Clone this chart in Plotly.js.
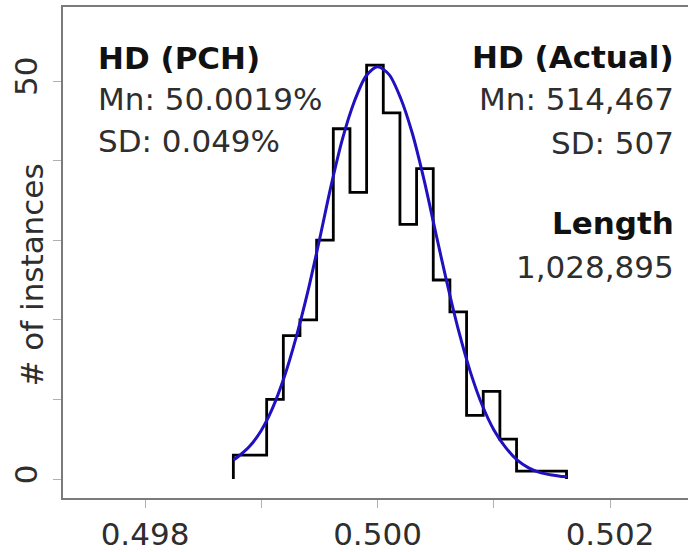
<!DOCTYPE html>
<html>
<head>
<meta charset="utf-8">
<script src="https://cdn.plot.ly/plotly-3.0.1.min.js"></script>
<style>html,body{margin:0;padding:0;overflow:hidden;background:#ffffff;}</style>
</head>
<body>
<div id="chart"></div>
<script>
// ---- data ----
const binStart = 0.49876;
const binWidth = 0.0001433;
const binCounts = [3, 3, 10, 18, 20, 30, 44, 36, 52, 46, 32, 39, 25, 21, 8, 11, 5, 1, 1, 1];

const curveX = [0.49876, 0.4988, 0.4989, 0.4990, 0.4991, 0.4992, 0.4993, 0.4994, 0.4995, 0.4996,
                0.4997, 0.4998, 0.4999, 0.5000, 0.5001, 0.5002, 0.5003, 0.5004, 0.5005, 0.5006,
                0.5007, 0.5008, 0.5009, 0.5010, 0.5011, 0.5012, 0.5013, 0.5014, 0.5015, 0.5016, 0.50163];
const curveY = [2.4, 2.8, 4.1, 6.1, 9.0, 12.9, 17.8, 23.5, 30.0, 36.8,
                42.8, 47.4, 50.6, 51.8, 50.8, 47.8, 43.4, 37.6, 31.0, 24.5,
                18.5, 13.4, 9.3, 6.2, 4.0, 2.4, 1.4, 0.8, 0.5, 0.3, 0.3];

const xTickVals = [0.498, 0.499, 0.500, 0.501, 0.502];
const xTickText = ['0.498', '', '0.500', '', '0.502'];
const yTickVals = [0, 10, 20, 30, 40, 50];
const yTickText = ['0', '', '', '', '', '50'];

const yTitle = '# of instances';
const leftStats = ['HD (PCH)', 'Mn: 50.0019%', 'SD: 0.049%'];
const rightStats = ['HD (Actual)', 'Mn: 514,467', 'SD: 507'];
const lengthStats = ['Length', '1,028,895'];

// ---- build step outline from bins ----
const stepX = [binStart];
const stepY = [0];
binCounts.forEach((c, i) => { stepX.push(binStart + i * binWidth); stepY.push(c); });
stepX.push(binStart + binCounts.length * binWidth);
stepY.push(0);

const FONT = 'DejaVu Sans';
const FS = 31;

// plot box in pixels
const W = 700, H = 552;
const L = 63, R = 695, T = 7, B = 498;
const px2x = p => (p - L) / (R - L);
const px2y = p => (B - p) / (B - T);

const traces = [
  {
    x: stepX, y: stepY, type: 'scatter', mode: 'lines',
    line: {color: '#000000', width: 2.8, shape: 'hv'},
    hoverinfo: 'skip', showlegend: false
  },
  {
    x: curveX, y: curveY, type: 'scatter', mode: 'lines',
    line: {color: '#2010c0', width: 3, shape: 'spline', smoothing: 0.8},
    hoverinfo: 'skip', showlegend: false
  }
];

function ann(text, px, py, anchor, bold) {
  return {
    xref: 'paper', yref: 'paper', x: px2x(px), y: px2y(py),
    xanchor: anchor, yanchor: 'middle', align: anchor,
    text: bold ? '<b>' + text + '</b>' : text,
    showarrow: false,
    font: {family: FONT, size: FS, color: bold ? '#111111' : '#2e2e2e'}
  };
}

const leftY = [57.5, 99, 141];
const rightY = [57, 99, 143];
const lengthY = [223, 267];

const annotations = [];
leftStats.forEach((t, i) => annotations.push(ann(t, 96, leftY[i], 'left', i === 0)));
rightStats.forEach((t, i) => annotations.push(ann(t, 676, rightY[i], 'right', i === 0)));
lengthStats.forEach((t, i) => annotations.push(ann(t, 676, lengthY[i], 'right', i === 0)));
annotations.push({
  xref: 'paper', yref: 'paper', x: px2x(31.5), y: px2y(275),
  xanchor: 'center', yanchor: 'middle', textangle: -90,
  text: yTitle, showarrow: false,
  font: {family: FONT, size: FS, color: '#2e2e2e'}
});

// axis ranges from pixel calibration: 0.498 -> 145px, 0.502 -> 610px ; 0 -> 479px, 50 -> 81px
const xPerPx = 0.004 / (610 - 145);
const yPerPx = 50 / (479 - 81);
const xRange = [0.498 - (145 - L) * xPerPx, 0.502 + (R - 610) * xPerPx];
const yRange = [0 - (B - 479) * yPerPx, 50 + (81 - T) * yPerPx];

const layout = {
  width: W, height: H,
  margin: {l: L, r: W - R, t: T, b: H - B, pad: 0},
  paper_bgcolor: '#ffffff', plot_bgcolor: '#ffffff',
  showlegend: false,
  xaxis: {
    range: xRange, tickvals: xTickVals, ticktext: xTickText,
    ticks: 'outside', ticklen: 8, tickwidth: 1, tickcolor: '#b0b0b0',
    showline: true, linecolor: '#7a7a7a', linewidth: 2, mirror: true,
    showgrid: false, zeroline: false, ticklabelstandoff: 0,
    tickfont: {family: FONT, size: FS, color: '#2e2e2e'}
  },
  yaxis: {
    range: yRange, tickvals: yTickVals, ticktext: yTickText,
    ticks: 'outside', ticklen: 8, tickwidth: 1, tickcolor: '#b0b0b0',
    showline: true, linecolor: '#7a7a7a', linewidth: 2, mirror: true,
    showgrid: false, zeroline: false, tickangle: -90, ticklabelstandoff: 4,
    tickfont: {family: FONT, size: FS, color: '#2e2e2e'}
  },
  annotations: annotations
};

Plotly.newPlot('chart', traces, layout, {displayModeBar: false, staticPlot: true});
</script>
</body>
</html>
